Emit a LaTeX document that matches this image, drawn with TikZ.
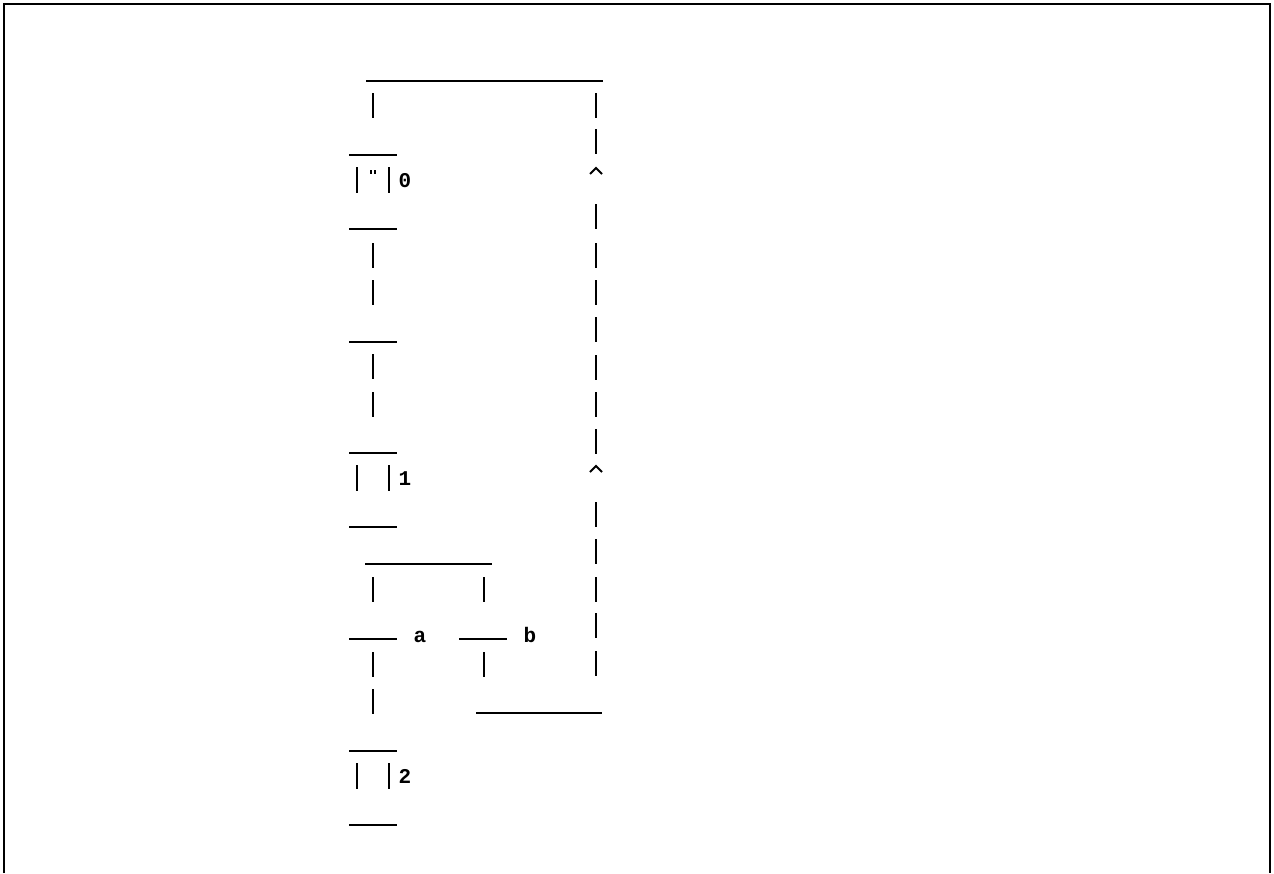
\documentclass[tikz,border=0pt]{standalone}
\usepackage{fontspec}
\setmonofont{Liberation Mono}
\begin{document}
\begin{tikzpicture}[x=1pt, y=-1pt, line width=2pt,
  every node/.style={font=\ttfamily\bfseries\fontsize{21}{21}\selectfont, inner sep=0pt},
  bar/.style={line width=2pt},
  tick/.style={line width=2pt},
  caret/.style={line width=1.8pt}]
  \useasboundingbox (0,0) rectangle (1274,873);
  % frame
  \draw[line width=2.5pt] (4,873) -- (4,4) -- (1270,4) -- (1270,873);
  % places 0, 1, 2
  \foreach \t/\lab in {155/0, 453/1, 751/2} {
    \draw[bar] (349,\t) -- (397,\t);
    \draw[tick] (357,\t+12) -- (357,\t+38);
    \draw[tick] (389,\t+12) -- (389,\t+38);
    \draw[bar] (349,\t+74) -- (397,\t+74);
    \node[anchor=base] (place\lab) at (405,\t+32) {\lab};
  }
  % token in place 0
  \draw[line width=1.2pt] (371,170) -- (371,174) (375,170) -- (375,174);
  % top arc
  \draw[bar] (366,81) -- (603,81);
  \draw[tick] (373,93) -- (373,118);
  % left column
  \foreach \y in {243, 280, 354, 392, 652, 689}
    \draw[tick] (373,\y) -- (373,\y+25);
  \draw[bar] (349,342) -- (397,342);
  % fork
  \draw[bar] (365,564) -- (492,564);
  \draw[tick] (373,577) -- (373,602);
  \draw[tick] (484,577) -- (484,602);
  \draw[bar] (349,639) -- (397,639);
  \draw[bar] (459,639) -- (507,639);
  \node[anchor=base] (laba) at (420,642) {a};
  \node[anchor=base] (labb) at (530,642) {b};
  \draw[tick] (484,652) -- (484,677);
  % return path
  \draw[bar] (476,713) -- (602,713);
  \foreach \y in {93, 129, 204, 243, 280, 317, 355, 392, 429, 502, 539, 577, 613, 651}
    \draw[tick] (596,\y) -- (596,\y+25);
  \draw[caret] (590,174) -- (596,168) -- (602,174);
  \draw[caret] (590,472) -- (596,466) -- (602,472);
\end{tikzpicture}
\end{document}
